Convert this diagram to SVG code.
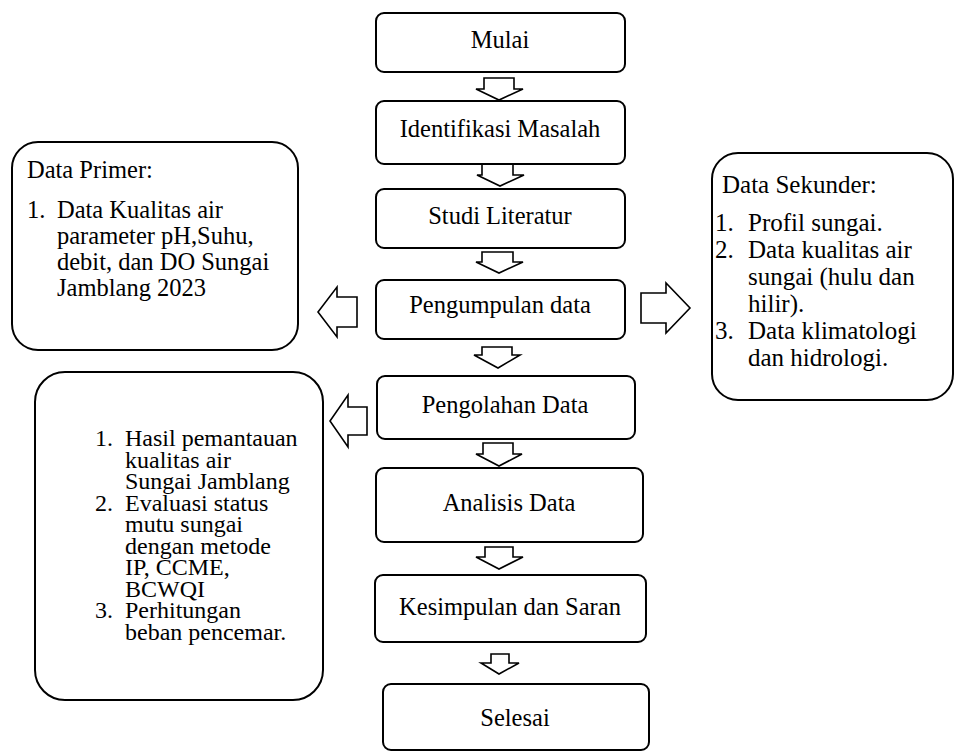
<svg xmlns="http://www.w3.org/2000/svg" width="958" height="754" viewBox="0 0 958 754" font-family="'Liberation Serif', 'Times New Roman', serif">
<style>
.box{fill:#fff;stroke:#000;stroke-width:2}
.arr{fill:#fff;stroke:#000;stroke-width:1.6;stroke-linejoin:miter}
text{font-family:'Liberation Serif','Times New Roman',serif;font-size:24.5px;fill:#000}
.c{text-anchor:middle}
.s{font-size:24px}
.k{font-size:25px}
</style>
<rect width="958" height="754" fill="#fff"/>
<g id="connectors">
<polygon class="arr" points="484,78 514,78 514,89 523,89 499,100 476,89 484,89"/>
<polygon class="arr" points="482,164 513,164 513,175 524,175 500,186 477,175 482,175"/>
<polygon class="arr" points="482,252 513,252 513,262 523,262 499,273 476,262 482,262"/>
<polygon class="arr" points="482,347 512,347 512,355 520,355 498,368 474,355 482,355"/>
<polygon class="arr" points="483,443 513,443 513,454 522,454 499,466 476,454 483,454"/>
<polygon class="arr" points="485,547 513,547 513,557 523,557 499,569 476,557 485,557"/>
<polygon class="arr" points="491,654 509,654 509,663 519,663 499,674 481,663 491,663"/>
<polygon class="arr" points="357,297 357,327 337,327 337,337 318,312 337,287 337,297"/>
<polygon class="arr" points="641,293 666,293 666,283 690,308 666,333 666,323 641,323"/>
<polygon class="arr" points="367,407 367,435 348,435 348,447 330,421 348,395 348,407"/>
</g>
<g id="mulai"><rect class="box" x="376" y="13" width="249" height="59" rx="8"/><text class="c" x="500" y="48">Mulai</text></g>
<g id="identifikasi"><rect class="box" x="376" y="101" width="249" height="63" rx="8"/><text class="c" x="500" y="137">Identifikasi Masalah</text></g>
<g id="studi"><rect class="box" x="376" y="189" width="249" height="59" rx="8"/><text class="c" x="500" y="224">Studi Literatur</text></g>
<g id="pengumpulan"><rect class="box" x="376" y="280" width="249" height="59" rx="8"/><text class="c" x="500" y="313">Pengumpulan data</text></g>
<g id="pengolahan"><rect class="box" x="377" y="376" width="258" height="63" rx="8"/><text class="c" x="505" y="413">Pengolahan Data</text></g>
<g id="analisis"><rect class="box" x="376" y="468" width="267" height="74" rx="8"/><text class="c" x="509" y="511">Analisis Data</text></g>
<g id="kesimpulan"><rect class="box" x="375" y="575" width="271" height="67" rx="8"/><text class="c" x="510" y="615">Kesimpulan dan Saran</text></g>
<g id="selesai"><rect class="box" x="383" y="684" width="266" height="66" rx="8"/><text class="c" x="515" y="726">Selesai</text></g>
<g id="data-primer"><rect class="box" x="12" y="142" width="286" height="208" rx="26"/>
<text x="27" y="178">Data Primer:</text>
<text x="27" y="218">1.</text>
<text x="57" y="218">Data Kualitas air</text>
<text x="57" y="244">parameter pH,Suhu,</text>
<text x="57" y="270">debit, dan DO Sungai</text>
<text x="57" y="296">Jamblang 2023</text>
</g>
<g id="data-sekunder"><rect class="box" x="712" y="153" width="241" height="247" rx="26"/>
<text class="k" x="722" y="193">Data Sekunder:</text>
<text class="k" x="715" y="231">1.</text><text class="k" x="748" y="231">Profil sungai.</text>
<text class="k" x="715" y="258">2.</text><text class="k" x="748" y="258">Data kualitas air</text>
<text class="k" x="748" y="285">sungai (hulu dan</text>
<text class="k" x="748" y="312">hilir).</text>
<text class="k" x="715" y="339">3.</text><text class="k" x="748" y="339">Data klimatologi</text>
<text class="k" x="748" y="366">dan hidrologi.</text>
</g>
<g id="hasil"><rect class="box" x="35" y="372" width="288" height="328" rx="30"/>
<text class="s" x="95" y="446">1.</text><text class="s" x="125" y="446">Hasil pemantauan</text>
<text class="s" x="125" y="467.5">kualitas air</text>
<text class="s" x="125" y="489">Sungai Jamblang</text>
<text class="s" x="95" y="510.5">2.</text><text class="s" x="125" y="510.5">Evaluasi status</text>
<text class="s" x="125" y="532">mutu sungai</text>
<text class="s" x="125" y="553.5">dengan metode</text>
<text class="s" x="125" y="575">IP, CCME,</text>
<text class="s" x="125" y="596.5">BCWQI</text>
<text class="s" x="95" y="618">3.</text><text class="s" x="125" y="618">Perhitungan</text>
<text class="s" x="125" y="639.5">beban pencemar.</text>
</g>
</svg>
